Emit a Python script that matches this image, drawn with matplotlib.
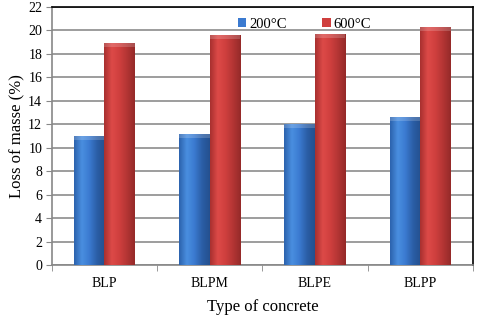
import numpy as np
import matplotlib
matplotlib.use('Agg')
import matplotlib.pyplot as plt
from matplotlib.colors import LinearSegmentedColormap

# Data
categories = ['BLP', 'BLPM', 'BLPE', 'BLPP']
loss_200 = [11.0, 11.2, 12.0, 12.6]
loss_600 = [18.9, 19.6, 19.7, 20.3]
labels = ['200°C', '600°C']

plt.rcParams['font.family'] = ['Liberation Serif', 'DejaVu Serif']

fig = plt.figure(figsize=(4.8, 3.2), dpi=100)
ax = fig.add_axes([0.108, 0.172, 0.877, 0.806])

x = np.arange(len(categories))
w = 0.29

blue_cmap = LinearSegmentedColormap.from_list('b', ['#2c62ad', '#4a8fe0', '#3b7ad0', '#2b5ea6', '#24508f'])
red_cmap = LinearSegmentedColormap.from_list('r', ['#a8302f', '#dd4a48', '#cf3f3e', '#b33534', '#952a29'])

grad = np.linspace(0, 1, 64).reshape(1, -1)

def gradient_bars(bars, cmap):
    for b in bars:
        x0, y0 = b.get_x(), b.get_y()
        bw, bh = b.get_width(), b.get_height()
        im = ax.imshow(grad, cmap=cmap, aspect='auto', extent=[x0, x0 + bw, y0, y0 + bh],
                       zorder=3, interpolation='bicubic')
        im.set_clip_path(b)
        # lighter top cap
        ax.fill_between([x0, x0 + bw], y0 + bh - 0.35, y0 + bh, color='white', alpha=0.18,
                        zorder=4, linewidth=0)

b1 = ax.bar(x - w / 2, loss_200, w, color='#3b7ad0', zorder=2, label=labels[0], linewidth=0)
b2 = ax.bar(x + w / 2, loss_600, w, color='#cf3f3e', zorder=2, label=labels[1], linewidth=0)
gradient_bars(b1, blue_cmap)
gradient_bars(b2, red_cmap)

ax.set_xlim(-0.5, len(categories) - 0.5)
ax.set_ylim(0, 22)
ax.set_yticks(range(0, 23, 2))
ax.set_xticks(x)
ax.set_xticklabels(categories)
ax.set_xticks(np.arange(len(categories) + 1) - 0.5, minor=True)
ax.tick_params(axis='x', which='major', length=0, pad=9, labelsize=10)
ax.tick_params(axis='x', which='minor', length=4, color='#888888', direction='out')
ax.tick_params(axis='y', length=4, color='#888888', labelsize=10, pad=3)

ax.yaxis.grid(True, color='#8c8c8c', linewidth=1.2, zorder=0)
ax.set_axisbelow(True)

for s in ['top', 'right']:
    ax.spines[s].set_color('black')
    ax.spines[s].set_linewidth(1.2)
for s in ['left', 'bottom']:
    ax.spines[s].set_color('#888888')
    ax.spines[s].set_linewidth(1.2)

ax.set_ylabel('Loss of masse (%)', fontsize=12, labelpad=2)
ax.set_xlabel('Type of concrete', fontsize=12, labelpad=6)

ax.legend(loc='upper center', bbox_to_anchor=(0.6, 1.01), ncol=2, frameon=False,
          fontsize=10.5, handlelength=0.6, handleheight=0.6, handletextpad=0.2, columnspacing=2.4)

fig.savefig('out.png', dpi=100)
